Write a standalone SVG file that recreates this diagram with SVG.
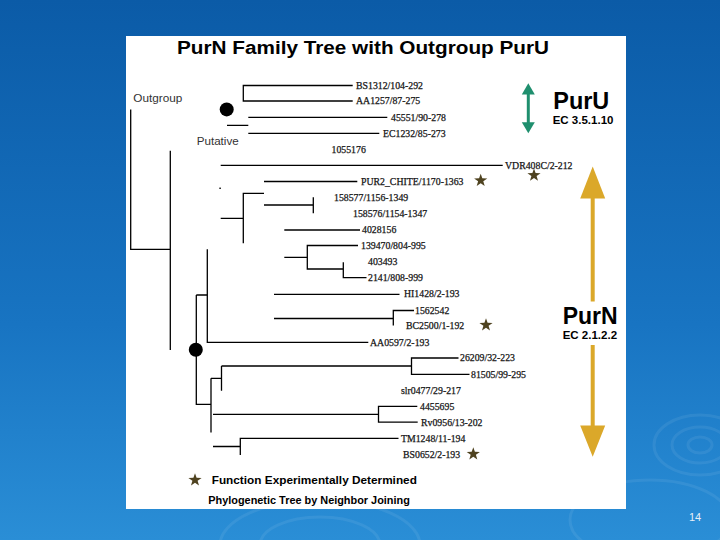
<svg xmlns="http://www.w3.org/2000/svg" width="720" height="540" viewBox="0 0 720 540">
<defs>
<linearGradient id="bg" x1="0" y1="0" x2="0" y2="1">
<stop offset="0" stop-color="#0b5ba7"/>
<stop offset="0.6" stop-color="#1874c2"/>
<stop offset="1" stop-color="#2a8ed6"/>
</linearGradient>
<path id="star" d="M0,-6.8 L1.6,-2.2 L6.6,-2.1 L2.6,0.8 L4.0,5.4 L0,2.7 L-4.0,5.4 L-2.6,0.8 L-6.6,-2.1 L-1.6,-2.2 Z"/>
<style>
.ln{stroke:#000;stroke-width:1.3;fill:none}
.lf{font-family:"Liberation Serif","Times New Roman",serif;font-size:9.8px;fill:#151515;stroke:#151515;stroke-width:0.25}
.lbl{font-family:"Liberation Sans",Arial,sans-serif;font-size:11px;fill:#333}
.bold{font-family:"Liberation Sans",Arial,sans-serif;font-weight:bold;fill:#000}
.star{fill:#4f4320}
.rip{fill:none;stroke:#ffffff;stroke-opacity:0.07;stroke-width:3}
</style>
</defs>
<rect x="0" y="0" width="720" height="540" fill="url(#bg)"/>
<g id="ripples">
<ellipse class="rip" cx="700" cy="445" rx="28" ry="18"/>
<ellipse class="rip" cx="700" cy="445" rx="46" ry="30"/>
<ellipse class="rip" cx="700" cy="445" rx="12" ry="8"/>
<ellipse class="rip" cx="320" cy="545" rx="60" ry="28"/>
<ellipse class="rip" cx="320" cy="545" rx="100" ry="45"/>
<ellipse class="rip" cx="650" cy="520" rx="80" ry="40"/>
</g>
<rect id="panel" x="126" y="36" width="500" height="473" fill="#fff"/>
<g id="title"><text class="bold" x="177" y="54" font-size="18" textLength="372" lengthAdjust="spacingAndGlyphs">PurN Family Tree with Outgroup PurU</text></g>
<g id="outgroup-label"><text class="lbl" x="133.3" y="102.3" textLength="49" lengthAdjust="spacingAndGlyphs">Outgroup</text></g>
<g id="putative-label"><text class="lbl" x="196.7" y="145" textLength="42" lengthAdjust="spacingAndGlyphs">Putative</text></g>
<g id="connectors">
<path class="ln" d="M130.7,109.5 V249.3 H170.3 M170.3,150.7 V350"/>
<path class="ln" d="M352.7,85.5 H243.3 V101 H352.7"/>
<path class="ln" d="M248.3,117.3 H387.3 M227,125.3 H248.3 M248.3,133.3 H379.3"/>
<path class="ln" d="M220.7,165.3 H502.7"/>
<path class="ln" d="M264,181.5 H357.3"/>
<path class="ln" d="M264,193.3 H243.3 V243.3 M220.7,218.3 H243.3"/>
<path class="ln" d="M264,205 H313.3 M313.3,197.3 V213.3"/>
<path class="ln" d="M284.3,230 H360"/>
<path class="ln" d="M284.3,257.3 H307.3 M358,245.5 H307.3 V269 H343.3 M343.3,262.3 V277.7 H366.5"/>
<path class="ln" d="M207.3,249.3 V342.3 H368.3"/>
<path class="ln" d="M196.3,295 H207.3 M196.3,295 V404.3 H211"/>
<path class="ln" d="M274,294.3 H399.5"/>
<path class="ln" d="M274,318.5 H393.3 M393.3,325.5 V310.5 H414"/>
<path class="ln" d="M211,378.3 V432.5 M211,378.3 H221.5 M221.5,390.7 V366"/>
<path class="ln" d="M221.5,366 H411.5 M458.5,358 H411.5 V374.3 H469.5"/>
<path class="ln" d="M213,414.3 H378.5 M417.3,406.3 H378.5 V422.2 H417.7"/>
<path class="ln" d="M213,446.5 H240.3 M240.3,455 V438.4 H398.5"/>
<rect x="219.3" y="187.6" width="1.6" height="1.3" fill="#000"/>
</g>
<g id="root-dots">
<circle cx="226.7" cy="109.4" r="7" fill="#000"/>
<circle cx="195.8" cy="349.8" r="7" fill="#000"/>
</g>
<g id="leaf-BS1312"><text class="lf" x="356" y="88.9">BS1312/104-292</text></g>
<g id="leaf-AA1257"><text class="lf" x="356" y="104.4">AA1257/87-275</text></g>
<g id="leaf-45551"><text class="lf" x="391" y="120.7">45551/90-278</text></g>
<g id="leaf-EC1232"><text class="lf" x="383" y="136.7">EC1232/85-273</text></g>
<g id="leaf-1055176"><text class="lf" x="331.5" y="152.9">1055176</text></g>
<g id="leaf-VDR408C"><text class="lf" x="505" y="168.7">VDR408C/2-212</text><use href="#star" class="star" x="534" y="175.3"/></g>
<g id="leaf-PUR2"><text class="lf" x="361" y="184.7">PUR2_CHITE/1170-1363</text><use href="#star" class="star" x="480.7" y="180.5"/></g>
<g id="leaf-158577"><text class="lf" x="334" y="200.9">158577/1156-1349</text></g>
<g id="leaf-158576"><text class="lf" x="353" y="217.4">158576/1154-1347</text></g>
<g id="leaf-4028156"><text class="lf" x="362" y="233.4">4028156</text></g>
<g id="leaf-139470"><text class="lf" x="361" y="248.9">139470/804-995</text></g>
<g id="leaf-403493"><text class="lf" x="368" y="265.1">403493</text></g>
<g id="leaf-2141"><text class="lf" x="368" y="281.1">2141/808-999</text></g>
<g id="leaf-HI1428"><text class="lf" x="404" y="297.4">HI1428/2-193</text></g>
<g id="leaf-1562542"><text class="lf" x="415" y="313.9">1562542</text></g>
<g id="leaf-BC2500"><text class="lf" x="406" y="329.2">BC2500/1-192</text><use href="#star" class="star" x="486" y="325"/></g>
<g id="leaf-AA0597"><text class="lf" x="370" y="345.6">AA0597/2-193</text></g>
<g id="leaf-26209"><text class="lf" x="460" y="361.4">26209/32-223</text></g>
<g id="leaf-81505"><text class="lf" x="471" y="377.7">81505/99-295</text></g>
<g id="leaf-slr0477"><text class="lf" x="401" y="393.6">slr0477/29-217</text></g>
<g id="leaf-4455695"><text class="lf" x="420" y="409.7">4455695</text></g>
<g id="leaf-Rv0956"><text class="lf" x="421" y="425.6">Rv0956/13-202</text></g>
<g id="leaf-TM1248"><text class="lf" x="401" y="441.8">TM1248/11-194</text></g>
<g id="leaf-BS0652"><text class="lf" x="403" y="457.6">BS0652/2-193</text><use href="#star" class="star" x="473.3" y="454"/></g>
<g id="purU">
<line x1="528.3" y1="92" x2="528.3" y2="125" stroke="#1f8f6e" stroke-width="3"/>
<polygon points="528.3,83.3 534.8,94.5 521.8,94.5" fill="#1f8f6e"/>
<polygon points="528.3,133.3 534.8,122.3 521.8,122.3" fill="#1f8f6e"/>
<text class="bold" x="553.3" y="109.3" font-size="23" textLength="56" lengthAdjust="spacingAndGlyphs">PurU</text>
<text class="bold" x="552.7" y="123.5" font-size="11.5">EC 3.5.1.10</text>
</g>
<g id="purN">
<rect x="590.7" y="196" width="4" height="105.5" fill="#dba82a"/>
<rect x="590.7" y="345" width="4" height="83" fill="#dba82a"/>
<polygon points="592.7,166.5 605.2,198.5 580.2,198.5" fill="#dba82a"/>
<polygon points="592.7,456.7 605.2,425.5 580.2,425.5" fill="#dba82a"/>
<text class="bold" x="562.7" y="324" font-size="24" textLength="55" lengthAdjust="spacingAndGlyphs">PurN</text>
<text class="bold" x="562.7" y="338.5" font-size="11.5">EC 2.1.2.2</text>
</g>
<g id="legend">
<use href="#star" class="star" x="195" y="480"/>
<text class="bold" x="211.7" y="484.3" font-size="11.8" fill="#111">Function Experimentally Determined</text>
<text class="bold" x="208.3" y="504.3" font-size="10.9" fill="#111">Phylogenetic Tree by Neighbor Joining</text>
</g>
<g id="page-number"><text x="689" y="521" font-family="Liberation Sans,Arial,sans-serif" font-size="11" fill="#e6eef8">14</text></g>
</svg>
